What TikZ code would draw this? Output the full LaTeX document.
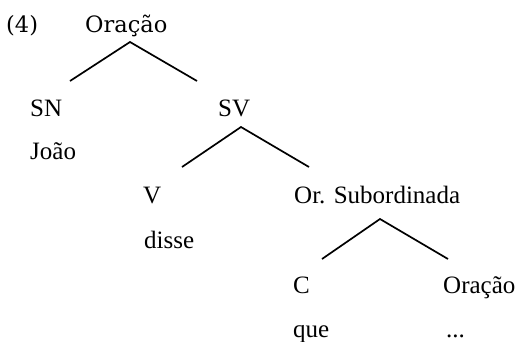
\documentclass[tikz,border=0pt]{standalone}
\usepackage{fontspec}
\setmainfont{Liberation Serif}
\newfontfamily\headfont{DejaVu Serif}
\begin{document}
\begin{tikzpicture}[x=1pt,y=-1pt,
  lbl/.style={anchor=base west,inner sep=0pt,font=\fontsize{25}{30}\selectfont},
  head/.style={anchor=base west,inner sep=0pt,font=\headfont\fontsize{22.5}{27}\selectfont},
  branch/.style={line width=1.7pt,line join=miter}]
\useasboundingbox (0,0) rectangle (517,341);
% example number and root
\node[head] (num) at (6,32) {(4)};
\node[head] (root) at (85,32) {Oração};
% first level
\node[lbl] (sn) at (30,116) {SN};
\node[lbl] (joao) at (30,159) {João};
\node[lbl] (sv) at (218,116) {SV};
% second level
\node[lbl] (v) at (143,203) {V};
\node[lbl] (disse) at (144,248) {disse};
\node[lbl] (sub) at (294,203) {Or. Subordinada};
% third level
\node[lbl] (c) at (293,293) {C};
\node[lbl] (que) at (293,337) {que};
\node[lbl] (or2) at (443,293) {Oração};
\node[lbl] (dots) at (446,337) {...};
% branch points
\coordinate (a1) at (130,42);
\coordinate (l1) at (70,81);
\coordinate (r1) at (197,81);
\coordinate (a2) at (241,127);
\coordinate (l2) at (182,167);
\coordinate (r2) at (309,167);
\coordinate (a3) at (380,219);
\coordinate (l3) at (322,259);
\coordinate (r3) at (448,259);
\draw[branch] (l1) -- (a1) -- (r1);
\draw[branch] (l2) -- (a2) -- (r2);
\draw[branch] (l3) -- (a3) -- (r3);
\end{tikzpicture}
\end{document}
